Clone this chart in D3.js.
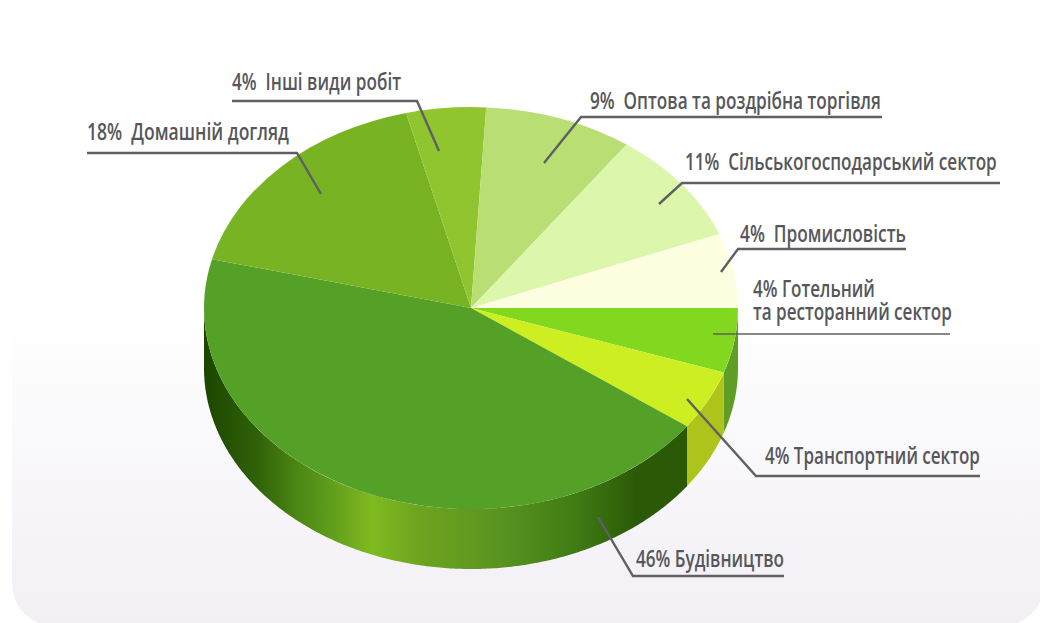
<!DOCTYPE html>
<html>
<head>
<meta charset="utf-8">
<script src="https://cdn.jsdelivr.net/npm/d3@7/dist/d3.min.js"></script>
<style>
    html, body { margin: 0; padding: 0; background: #fff; }
    text { font-family: "Open Sans", sans-serif; font-weight: 600; fill: #56575b; }
</style>
</head>
<body>
<div id="chart"></div>
<script>
// printed percentages and names, clockwise from the right edge
var percents = [4, 4, 46, 18, 4, 9, 11, 4];
var sectors = [
    "Готельний",
    "Транспортний сектор",
    "Будівництво",
    "Домашній догляд",
    "Інші види робіт",
    "Оптова та роздрібна торгівля",
    "Сільськогосподарський сектор",
    "Промисловість"
];
var hotelSecondLine = "та ресторанний сектор";
// share of the circle each slice really takes up in the drawing (not the same as the print)
var drawnShares = [5.2, 4.8, 43.9, 17.2, 4.8, 9.0, 9.1, 6.0];

var topColors = ["#82d81e", "#cdee20", "#55a027", "#78b323", "#90c530", "#b9df74", "#dcf6ab", "#fdffe0"];
var wallColors = ["#5f9e25", "#aec41a", "url(#wall)", "#2c5a06", "#2c5a06", "#2c5a06", "#2c5a06", "#2c5a06"];

var width = 1040,
    height = 623,
    depth = 60;

var svg = d3.select("#chart").append("svg")
    .attr("width", width)
    .attr("height", height)
    .style("display", "block");

var defs = svg.append("defs");

var panelGrad = defs.append("linearGradient")
    .attr("id", "panel")
    .attr("x1", 0).attr("y1", 0).attr("x2", 0).attr("y2", 1);
panelGrad.append("stop").attr("offset", "55%").attr("stop-color", "#ffffff");
panelGrad.append("stop").attr("offset", "100%").attr("stop-color", "#f2eff5");

// unit circle -> page, the pie is an ellipse
var x = d3.scaleLinear().domain([-1, 1]).range([204, 738]);
var y = d3.scaleLinear().domain([-1, 1]).range([107, 509]);

var wallGrad = defs.append("linearGradient")
    .attr("id", "wall")
    .attr("gradientUnits", "userSpaceOnUse")
    .attr("x1", x(-1)).attr("y1", 0).attr("x2", x(1)).attr("y2", 0);
[
    [0, "#1c4600"], [0.10, "#2f6208"], [0.17, "#4a8414"], [0.245, "#62a01c"], [0.315, "#80ba20"],
    [0.40, "#6da51f"], [0.55, "#5a9420"], [0.70, "#3f7a14"], [0.81, "#2a5a06"], [1, "#2a5a06"]
].forEach(function (s) {
    wallGrad.append("stop").attr("offset", s[0]).attr("stop-color", s[1]);
});

// background panel with round corners at the bottom
svg.append("rect")
    .attr("x", 12)
    .attr("y", -60)
    .attr("width", 1032)
    .attr("height", 686)
    .attr("rx", 42)
    .attr("ry", 42)
    .style("fill", "url(#panel)");

var pie = d3.pie()
    .sort(null)
    .startAngle(Math.PI / 2)
    .endAngle(Math.PI / 2 + 2 * Math.PI);

var slices = pie(drawnShares);

// side wall, only the part of a slice that faces the viewer
function wallPath(d) {
    var a0 = Math.max(d.startAngle, Math.PI / 2),
        a1 = Math.min(d.endAngle, 3 * Math.PI / 2);
    if (a1 <= a0) return null;
    var angles = d3.range(a0, a1, 0.01).concat([a1]);
    var px = function (a) { return x(Math.sin(a)); };
    var py = function (a) { return y(-Math.cos(a)); };
    var line = d3.line()
        .x(function (p) { return p[0]; })
        .y(function (p) { return p[1]; });
    var upper = angles.map(function (a) { return [px(a), py(a)]; });
    var lower = angles.slice().reverse().map(function (a) { return [px(a), py(a) + depth]; });
    return line(upper.concat(lower)) + "Z";
}

svg.append("g").selectAll("path")
    .data(slices)
    .enter().append("path")
    .attr("d", wallPath)
    .style("fill", function (d, i) {
        return wallColors[i];
    });

var arc = d3.arc().innerRadius(0).outerRadius(1);

svg.append("g")
    .attr("transform", "translate(" + x(0) + "," + y(0) + ") scale(" + (x(1) - x(0)) + "," + (y(1) - y(0)) + ")")
    .selectAll("path")
    .data(slices)
    .enter().append("path")
    .attr("d", arc)
    .style("fill", function (d, i) {
        return topColors[i];
    });

// labels and leaders, same order as sectors
var labelBoxes = [
    { x: 753, y: 297, w: 199, lead: [[713, 334], [950, 334]], thin: true },
    { x: 765, y: 464, w: 215, lead: [[687, 399], [756, 476], [980, 476]] },
    { x: 636, y: 567, w: 148, lead: [[598, 517], [633, 576], [784, 576]] },
    { x: 87, y: 140, w: 202, lead: [[321, 194], [297, 153], [87, 153]] },
    { x: 232, y: 90, w: 169, lead: [[439, 151], [417, 101], [232, 101]] },
    { x: 590, y: 109, w: 291, lead: [[544, 163], [581, 117], [882, 117]] },
    { x: 685, y: 170, w: 312, lead: [[659, 204], [682, 183], [1000, 183]] },
    { x: 740, y: 242, w: 166, lead: [[721, 272], [738, 249], [906, 249]] }
];

var leaderLine = d3.line();

// the original type is condensed, none of the fonts here is, so squeeze it to the width
function addLabel(str, px, py, w, second) {
    var t = svg.append("text")
        .style("font-size", "24px")
        .style("white-space", "pre");
    t.append("tspan").attr("x", 0).text(str);
    var natural = t.node().getComputedTextLength();
    if (second) {
        // two line label, the long line sets the squeeze
        var s = t.append("tspan").attr("x", 0).attr("dy", 23).text(second);
        natural = s.node().getComputedTextLength();
    }
    t.attr("transform", "translate(" + px + "," + py + ") scale(" + (w / natural) + ",1)");
}

labelBoxes.forEach(function (b, i) {
    svg.append("path")
        .attr("d", leaderLine(b.lead))
        .style("fill", "none")
        .style("stroke", "#5f6064")
        .style("stroke-width", b.thin ? 1.5 : 2.4);

    // the lower three labels have a tighter gap after the percent sign
    var gap = (i <= 2) ? " " : "  ";
    addLabel(percents[i] + "%" + gap + sectors[i], b.x, b.y, b.w, i === 0 ? hotelSecondLine : null);
});
</script>
</body>
</html>
